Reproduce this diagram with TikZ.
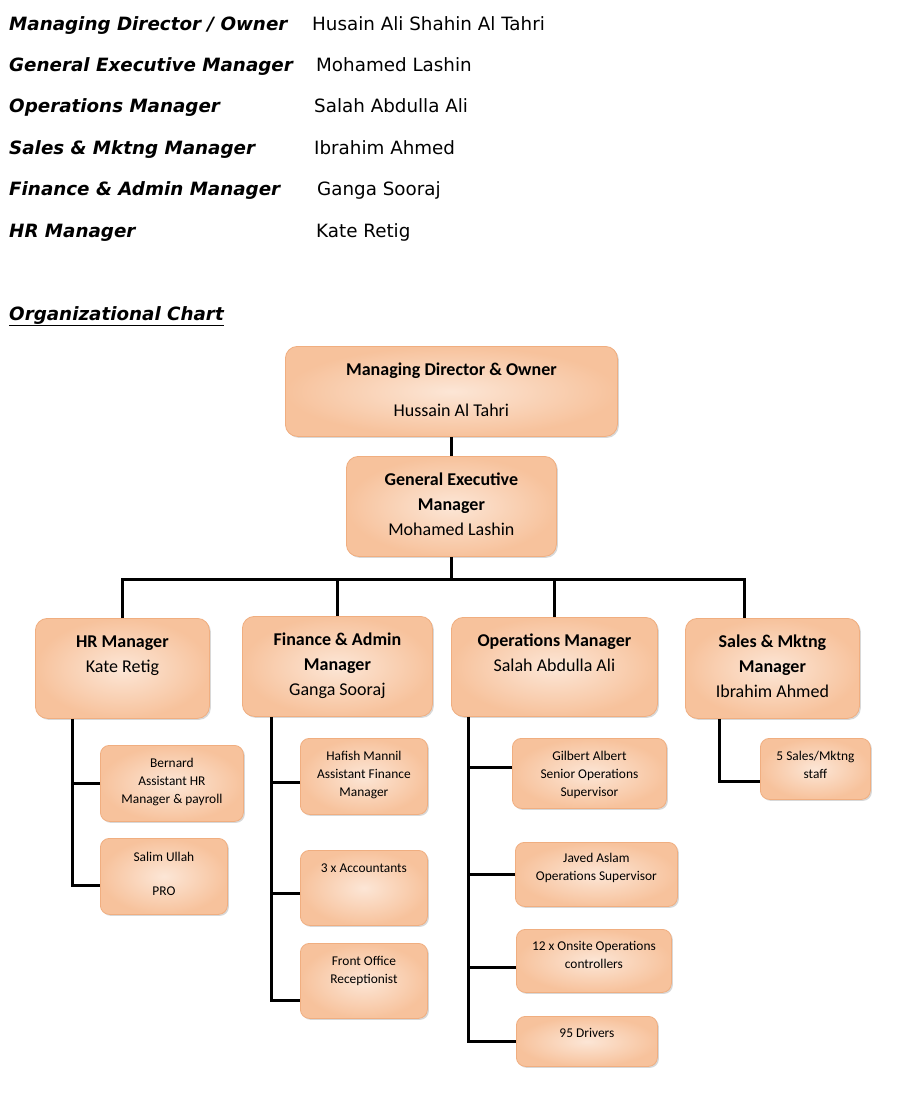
\documentclass[tikz,border=0pt]{standalone}
\usepackage{fontspec}
\setmainfont{Carlito}
\newfontfamily\headfont{DejaVu Sans}[BoldFont={DejaVu Sans Bold},ItalicFont={DejaVu Sans Oblique},BoldItalicFont={DejaVu Sans Bold Oblique}]
\usetikzlibrary{shadows}
\definecolor{boxlight}{HTML}{FCE6D6}
\definecolor{boxdark}{HTML}{F7C29C}
\definecolor{boxedge}{HTML}{F0AE80}

\begin{document}
\begin{tikzpicture}[x=1pt,y=-1pt]

\tikzset{mytitle/.style={anchor=base west, inner sep=0pt, font=\headfont\fontsize{18.3}{22}\selectfont\bfseries\itshape}}
\tikzset{myname/.style={anchor=base west, inner sep=0pt, font=\headfont\fontsize{18.3}{22}\selectfont}}
\tikzset{mybox/.style={anchor=north west, rounded corners=12pt, inner sep=0pt, align=center, draw=boxedge, line width=0.8pt, inner color=boxlight, outer color=boxdark, drop shadow={shadow xshift=1.5pt, shadow yshift=-1.5pt, opacity=0.3}, font=\fontsize{18}{25}\selectfont}}
\tikzset{mysmallbox/.style={mybox, rounded corners=9pt, font=\fontsize{13.4}{18}\selectfont}}
\tikzset{myline/.style={draw=black, line width=3pt}}

\useasboundingbox (0,0) rectangle (900,1100);
\fill[white] (0,0) rectangle (900,1100);

% list of managers
\node[mytitle] (t1) at (9,30) {Managing Director / Owner};
\node[myname] (n1) at (312,30) {Husain Ali Shahin Al Tahri};
\node[mytitle] (t2) at (9,71) {General Executive Manager};
\node[myname] (n2) at (316,71) {Mohamed Lashin};
\node[mytitle] (t3) at (9,112) {Operations Manager};
\node[myname] (n3) at (314,112) {Salah Abdulla Ali};
\node[mytitle] (t4) at (9,154) {Sales \& Mktng Manager};
\node[myname] (n4) at (314,154) {Ibrahim Ahmed};
\node[mytitle] (t5) at (9,195) {Finance \& Admin Manager};
\node[myname] (n5) at (317,195) {Ganga Sooraj};
\node[mytitle] (t6) at (9,237) {HR Manager};
\node[myname] (n6) at (316,237) {Kate Retig};

\node[mytitle] (orgchart) at (9,320) {\underline{Organizational Chart}};

% top of the chart
\node[mybox, minimum width=332pt, text height=70pt, text depth=20pt] (md) at (285,346) {\textbf{Managing Director \& Owner}\\[16pt]Hussain Al Tahri};
\node[mybox, minimum width=210pt, text height=79pt, text depth=21pt] (gem) at (346,456) {\textbf{General Executive}\\\textbf{Manager}\\Mohamed Lashin};

% managers
\node[mybox, minimum width=174pt, text height=54pt, text depth=46pt] (hr) at (35,618) {\textbf{HR Manager}\\Kate Retig};
\node[mybox, minimum width=190pt, text height=79pt, text depth=21pt] (fin) at (242,616) {\textbf{Finance \& Admin}\\\textbf{Manager}\\Ganga Sooraj};
\node[mybox, minimum width=206pt, text height=54pt, text depth=45pt] (ops) at (451,617) {\textbf{Operations Manager}\\Salah Abdulla Ali};
\node[mybox, minimum width=174pt, text height=79pt, text depth=21pt] (sales) at (685,618) {\textbf{Sales \& Mktng}\\\textbf{Manager}\\Ibrahim Ahmed};

% staff
\node[mysmallbox, minimum width=143pt, text height=58.3pt, text depth=17.7pt] (bern) at (100,745) {Bernard\\Assistant HR\\Manager \& payroll};
\node[mysmallbox, minimum width=127pt, text height=57.3pt, text depth=18.7pt] (salim) at (100,838) {Salim Ullah\\[16pt]PRO};
\node[mysmallbox, minimum width=127pt, text height=58.3pt, text depth=17.7pt] (hafish) at (300,738) {Hafish Mannil\\Assistant Finance\\Manager};
\node[mysmallbox, minimum width=127pt, text height=22.3pt, text depth=52.7pt] (acc) at (300,850) {3 x Accountants};
\node[mysmallbox, minimum width=127pt, text height=40.3pt, text depth=34.7pt] (front) at (300,943) {Front Office\\Receptionist};
\node[mysmallbox, minimum width=154pt, text height=58.3pt, text depth=11.7pt] (gilbert) at (512,738) {Gilbert Albert\\Senior Operations\\Supervisor};
\node[mysmallbox, minimum width=162pt, text height=38.3pt, text depth=25.7pt] (javed) at (515,842) {Javed Aslam\\Operations Supervisor};
\node[mysmallbox, minimum width=155pt, text height=39.3pt, text depth=23.7pt] (onsite) at (516,929) {12 x Onsite Operations\\controllers};
\node[mysmallbox, minimum width=141pt, text height=21.3pt, text depth=28.7pt] (drivers) at (516,1016) {95 Drivers};
\node[mysmallbox, minimum width=110pt, text height=40.3pt, text depth=20.7pt] (staff) at (760,738) {5 Sales/Mktng\\staff};

% connectors
\coordinate (bus) at (449,579);
\draw[myline] (md.south) -- (gem.north);
\draw[myline] (gem.south) -- (gem.south |- bus);
\draw[myline] (hr.north) |- (bus) -| ([xshift=-28pt]sales.north);
\draw[myline] (fin.north) -- (fin.north |- bus);
\draw[myline] (ops.north) -- (ops.north |- bus);

\coordinate (hrspine) at ([xshift=37pt]hr.south west);
\draw[myline] (bern.west) -- (bern.west -| hrspine);
\draw[myline] (hrspine) |- ([yshift=-9pt]salim.west);

\coordinate (finspine) at ([xshift=29pt]fin.south west);
\draw[myline] ([yshift=-6pt]hafish.west) -- ([yshift=-6pt]hafish.west -| finspine);
\draw[myline] ([yshift=-5.5pt]acc.west) -- ([yshift=-5.5pt]acc.west -| finspine);
\draw[myline] (finspine) |- ([yshift=-19.5pt]front.west);

\coordinate (opsspine) at ([xshift=17pt]ops.south west);
\draw[myline] ([yshift=6pt]gilbert.west) -- ([yshift=6pt]gilbert.west -| opsspine);
\draw[myline] (javed.west) -- (javed.west -| opsspine);
\draw[myline] ([yshift=-6.5pt]onsite.west) -- ([yshift=-6.5pt]onsite.west -| opsspine);
\draw[myline] (opsspine) |- (drivers.west);

\coordinate (salesspine) at ([xshift=34pt]sales.south west);
\draw[myline] (salesspine) |- ([yshift=-12.5pt]staff.west);

\end{tikzpicture}
\end{document}
